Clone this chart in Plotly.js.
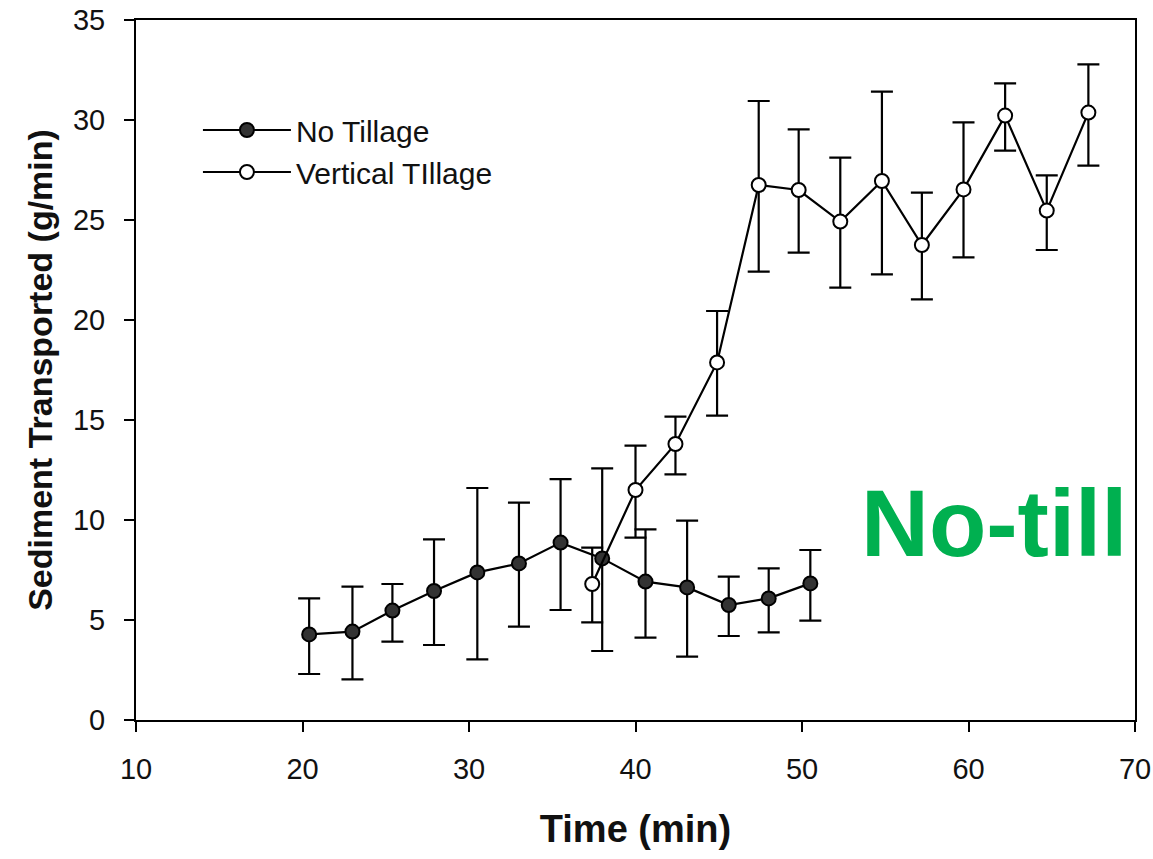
<!DOCTYPE html>
<html>
<head>
<meta charset="utf-8">
<script src="https://cdn.plot.ly/plotly-3.0.1.min.js"></script>
<style>html,body{margin:0;padding:0;background:#fff;}#chart{width:1153px;height:859px;}</style>
</head>
<body>
<div id="chart"></div>
<script>
// No Tillage series
const noTillTime = [20.4, 23.0, 25.4, 27.9, 30.5, 33.0, 35.5, 38.0, 40.6, 43.1, 45.6, 48.0, 50.5];
const noTillSed  = [4.28, 4.42, 5.47, 6.45, 7.38, 7.83, 8.87, 8.08, 6.92, 6.63, 5.75, 6.08, 6.83];
const noTillErrUp   = [1.80, 2.25, 1.33, 2.58, 4.22, 3.04, 3.17, 4.50, 2.61, 3.34, 1.42, 1.50, 1.67];
const noTillErrDown = [1.98, 2.39, 1.55, 2.70, 4.35, 3.16, 3.37, 4.63, 2.80, 3.46, 1.55, 1.70, 1.86];

// Vertical Tillage series
const vtTime = [37.4, 40.0, 42.4, 44.9, 47.4, 49.8, 52.3, 54.8, 57.2, 59.7, 62.2, 64.7, 67.2];
const vtSed  = [6.8, 11.5, 13.8, 17.88, 26.75, 26.5, 24.92, 26.95, 23.75, 26.53, 30.22, 25.47, 30.37];
const vtErrUp   = [1.82, 2.22, 1.37, 2.57, 4.20, 3.03, 3.20, 4.47, 2.62, 3.35, 1.61, 1.76, 2.41];
const vtErrDown = [1.92, 2.38, 1.52, 2.66, 4.33, 3.13, 3.30, 4.67, 2.72, 3.40, 1.75, 1.97, 2.65];

const seriesNames = ["No Tillage", "Vertical TIllage"];
const xTicks = [10, 20, 30, 40, 50, 60, 70];
const yTicks = [0, 5, 10, 15, 20, 25, 30, 35];

const FONT = "Liberation Sans, Arial, Helvetica, sans-serif";

const vt = {
  x: vtTime, y: vtSed, name: seriesNames[1], type: "scatter", mode: "lines+markers",
  legendrank: 2,
  line: {color: "#000", width: 2.2},
  marker: {symbol: "circle", size: 14, color: "#fff", line: {color: "#000", width: 2}},
  error_y: {type: "data", symmetric: false, array: vtErrUp, arrayminus: vtErrDown,
            color: "#000", thickness: 2.2, width: 11}
};
const nt = {
  x: noTillTime, y: noTillSed, name: seriesNames[0], type: "scatter", mode: "lines+markers",
  legendrank: 1,
  line: {color: "#000", width: 2.2},
  marker: {symbol: "circle", size: 14, color: "#333", line: {color: "#000", width: 2}},
  error_y: {type: "data", symmetric: false, array: noTillErrUp, arrayminus: noTillErrDown,
            color: "#000", thickness: 2.2, width: 11}
};

const layout = {
  width: 1153, height: 859,
  margin: {l: 136, r: 18, t: 20, b: 139},
  paper_bgcolor: "#fff", plot_bgcolor: "#fff",
  font: {family: FONT, color: "#111"},
  showlegend: true,
  legend: {x: 0.062, y: 0.88, xanchor: "left", yanchor: "top",
           bgcolor: "rgba(0,0,0,0)", font: {size: 30, family: FONT, color: "#111"},
           itemwidth: 88},
  xaxis: {
    range: [10, 70], tickvals: xTicks, ticktext: xTicks.map(String),
    showgrid: false, zeroline: false,
    showline: true, linecolor: "#000", linewidth: 2, mirror: true,
    ticks: "outside", ticklen: 10, tickwidth: 2, tickcolor: "#000",
    tickfont: {size: 29, family: FONT, color: "#111"}, ticklabelstandoff: 12,
    title: {text: "<b>Time (min)</b>", font: {size: 38, family: FONT, color: "#111"}, standoff: 32}
  },
  yaxis: {
    range: [0, 35], tickvals: yTicks, ticktext: yTicks.map(String),
    showgrid: false, zeroline: false,
    showline: true, linecolor: "#000", linewidth: 2, mirror: true,
    ticks: "outside", ticklen: 10, tickwidth: 2, tickcolor: "#000",
    tickfont: {size: 29, family: FONT, color: "#111"}, ticklabelstandoff: 13,
    title: {text: "<b>Sediment Transported (g/min)</b>", font: {size: 34, family: FONT, color: "#111"}, standoff: 10}
  },
  annotations: [{
    xref: "paper", yref: "paper", x: 0.859, y: 0.281, xanchor: "center", yanchor: "middle",
    text: "<b>No-till</b>", showarrow: false,
    font: {size: 94, family: FONT, color: "#00B050"}
  }]
};

Plotly.newPlot("chart", [nt, vt], layout, {staticPlot: true, displayModeBar: false});
</script>
</body>
</html>
